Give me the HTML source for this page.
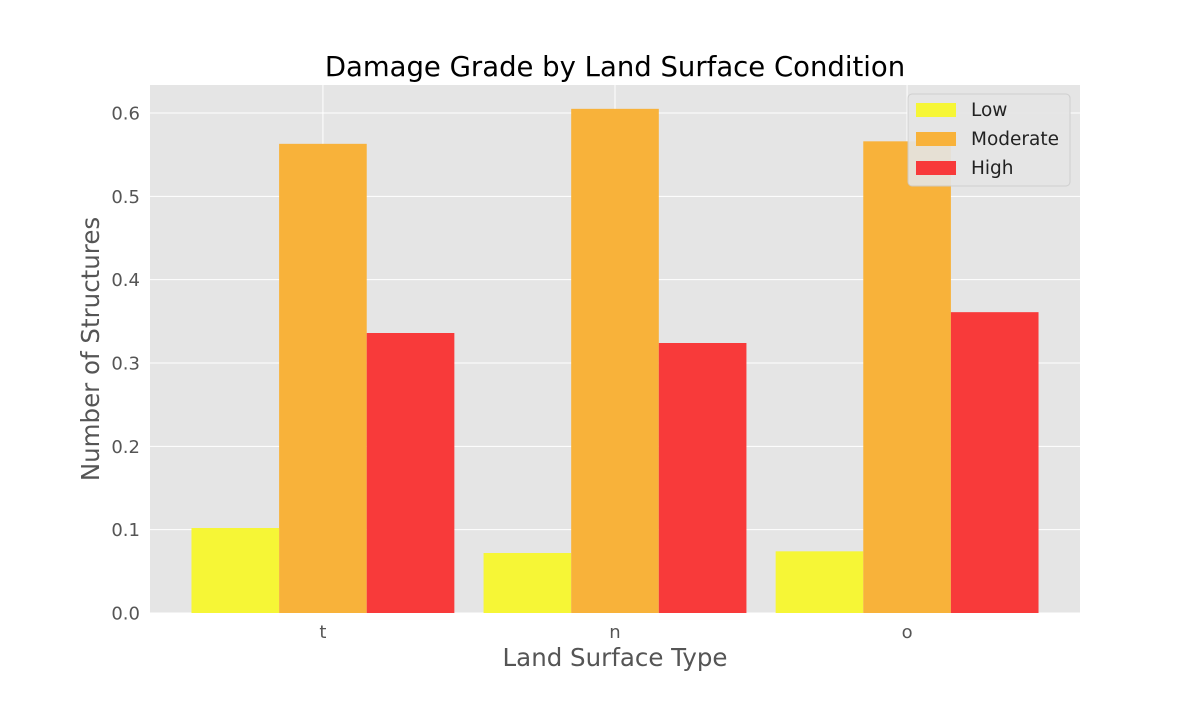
<!DOCTYPE html>
<html><head><meta charset="utf-8"><style>
body{margin:0;background:#fff;}
svg text{font-family:"DejaVu Sans","Liberation Sans",sans-serif;}
</style></head><body>
<svg width="1200" height="700" xmlns="http://www.w3.org/2000/svg">
<rect x="150" y="85" width="930" height="528" fill="#e5e5e5"/>
<g id="grid"></g>
<g id="bars"></g>
<g id="axes"></g>
<text x="615" y="76" text-anchor="middle" font-size="27.5" fill="#000">Damage Grade by Land Surface Condition</text>
<text x="615" y="666" text-anchor="middle" font-size="24.5" fill="#555">Land Surface Type</text>
<text x="99" y="349" text-anchor="middle" font-size="24.5" fill="#555" transform="rotate(-90 99 349)">Number of Structures</text>
<g>
<rect x="908" y="94" width="162" height="92" rx="4" fill="#e5e5e5" stroke="#ccc" opacity="0.9"/>
<g id="legend"></g>
</g>
</svg>
<script>
const categories=["t","n","o"];
const seriesNames=["Low","Moderate","High"];
const lowVals=[0.102,0.072,0.074];
const modVals=[0.563,0.605,0.566];
const highVals=[0.336,0.324,0.361];
const yTicks=[0,0.1,0.2,0.3,0.4,0.5,0.6];
const colors=["#f6f636","#f8b23a","#f83a3a"];
const NS="http://www.w3.org/2000/svg";
const x=v=>150+(v+0.592)*(930/3.184);
const y=v=>613-v*(500/0.6);
function mk(t,a,p){const e=document.createElementNS(NS,t);for(const k in a)e.setAttribute(k,a[k]);p.appendChild(e);return e;}
const grid=document.getElementById('grid'),bars=document.getElementById('bars'),axes=document.getElementById('axes'),leg=document.getElementById('legend');
yTicks.forEach(t=>{
 const l=mk('line',{x1:150,x2:1080,y1:y(t),y2:y(t),stroke:"#fff","stroke-width":1},grid);
 
 const tx=mk('text',{x:140,y:y(t)+6.5,"text-anchor":"end","font-size":18,fill:"#555"},axes);
 tx.textContent=t.toFixed(1);
 
});
categories.forEach((c,i)=>{
 const l=mk('line',{x1:x(i),x2:x(i),y1:85,y2:613,stroke:"#fff","stroke-width":1},grid);
 
 const tx=mk('text',{x:x(i),y:638,"text-anchor":"middle","font-size":18,fill:"#555"},axes);
 tx.textContent=c;
 
});
const series=[lowVals,modVals,highVals];
series.forEach((vals,s)=>{
 vals.forEach((v,i)=>{
  const x0=x(i+(s-1)*0.3-0.15),x1=x(i+(s-1)*0.3+0.15);
  const r=mk('rect',{x:x0,y:y(v),width:x1-x0,height:y(0)-y(v),fill:colors[s]},bars);
  
  
 });
 const sw=mk('rect',{x:916,y:103+s*29,width:40,height:14,fill:colors[s]},leg);
 
 const t=mk('text',{x:971,y:116+s*29,"font-size":18.5,fill:"#222"},leg);
 t.textContent=seriesNames[s];
 
});
</script>
</body></html>
